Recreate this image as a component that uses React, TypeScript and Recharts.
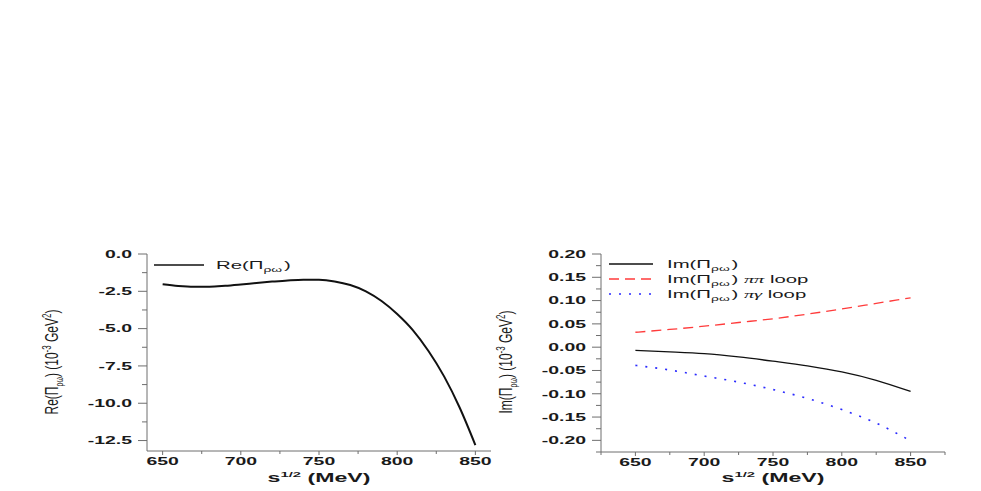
import React from 'react'
import { LineChart, Line, XAxis, YAxis, Label, Legend } from 'recharts'

// the source figure is stretched sideways, so text is widened by this factor
const SX = 1.85
const FONT = '"Liberation Sans", Arial, sans-serif'
const AXIS = '#6e6e6e'
const INK = '#1a1a1a'

// left panel: Re(Pi_rho-omega)
const reEnergy = [650, 660, 670, 680, 690, 700, 710, 720, 730, 740, 750, 760, 770, 780, 790, 800, 810, 820, 830, 840, 850]
const reValues = [-2.03, -2.14, -2.19, -2.19, -2.13, -2.04, -1.94, -1.85, -1.77, -1.72, -1.73, -1.84, -2.08, -2.5, -3.15, -4.02, -5.1, -6.5, -8.2, -10.3, -12.8]
const reXTicks = [650, 675, 700, 725, 750, 775, 800, 825, 850]
const reYTicks = [0, -1.25, -2.5, -3.75, -5, -6.25, -7.5, -8.75, -10, -11.25, -12.5]

// right panel: Im(Pi_rho-omega) and its two loop contributions
const imEnergy = [650, 675, 700, 725, 750, 775, 800, 825, 850]
const imTotal = [-0.007, -0.01, -0.014, -0.021, -0.03, -0.04, -0.053, -0.071, -0.095]
const imPiPi = [0.032, 0.038, 0.045, 0.053, 0.061, 0.071, 0.082, 0.094, 0.106]
const imPiGamma = [-0.039, -0.049, -0.062, -0.075, -0.091, -0.11, -0.134, -0.163, -0.201]
const imXTicks = [625, 650, 675, 700, 725, 750, 775, 800, 825, 850, 875]
const imYTicks = [0.2, 0.175, 0.15, 0.125, 0.1, 0.075, 0.05, 0.025, 0, -0.025, -0.05, -0.075, -0.1, -0.125, -0.15, -0.175, -0.2, -0.225]
const imKeys = ['total', 'pipi', 'pigamma']

const reData = reEnergy.map((e, i) => ({ e, re: reValues[i] }))
const imData = imEnergy.map((e, i) => ({ e, total: imTotal[i], pipi: imPiPi[i], pigamma: imPiGamma[i] }))

const isMultiple = (v: number, step: number) => Math.abs(v / step - Math.round(v / step)) < 1e-6

const Sub = ({ children }: { children: React.ReactNode }) => (
  <>
    <tspan dy={3} fontSize={7.5}>{children}</tspan>
    <tspan dy={-3}>{'\u200a'}</tspan>
  </>
)

function XTick({ x, y, payload }: any) {
  const v = payload.value
  const major = isMultiple(v, 50)
  return (
    <g>
      <line x1={x} x2={x} y1={y} y2={y + (major ? 4 : 3)} stroke={AXIS} />
      {major && (
        <g transform={`translate(${x},${y + 14}) scale(${SX},1)`}>
          <text textAnchor="middle" fontFamily={FONT} fontWeight="bold" fontSize={10.5} fill={INK}>
            {v}
          </text>
        </g>
      )}
    </g>
  )
}

const makeYTick = (step: number, digits: number) =>
  function YTick({ x, y, payload }: any) {
    const v = payload.value
    const major = isMultiple(v, step)
    return (
      <g>
        <line x1={x - (major ? 9 : 5)} x2={x} y1={y} y2={y} stroke={AXIS} />
        {major && (
          <g transform={`translate(${x - 15},${y}) scale(${SX},1)`}>
            <text textAnchor="end" dy="0.36em" fontFamily={FONT} fontWeight="bold" fontSize={10.5} fill={INK}>
              {v.toFixed(digits)}
            </text>
          </g>
        )}
      </g>
    )
  }

const xTitle = (cx: number) => () => (
  <g transform={`translate(${cx},482) scale(${SX},1)`}>
    <text textAnchor="middle" fontFamily={FONT} fontWeight="bold" fontSize={12.5} fill={INK}>
      s<tspan dy={-5} fontSize={8}>1/2</tspan>
      <tspan dy={5}> (MeV)</tspan>
    </text>
  </g>
)

const yTitle = (cx: number, head: string) => () => (
  <g transform={`translate(${cx},362) scale(1.5,1) rotate(-90)`}>
    <text textAnchor="middle" fontFamily={FONT} fontSize={12} fill={INK}>
      {head}(Π<tspan dy={3} fontSize={7}>ρω</tspan>
      <tspan dy={-3}>) (10</tspan>
      <tspan dy={-4.5} fontSize={8}>-3</tspan>
      <tspan dy={4.5}> GeV</tspan>
      <tspan dy={-4.5} fontSize={8}>2</tspan>
      <tspan dy={4.5}>)</tspan>
    </text>
  </g>
)

const seriesStyle: Record<string, { stroke: string; width: number; dash?: string }> = {
  re: { stroke: '#111', width: 2 },
  total: { stroke: '#111', width: 1.3 },
  pipi: { stroke: '#ff3b3b', width: 1.3, dash: '10 6' },
  pigamma: { stroke: '#2a2aff', width: 1.6, dash: '2 8' },
}

const legendText: Record<string, React.ReactNode> = {
  re: <>Re(Π<Sub>ρω</Sub>)</>,
  total: <>Im(Π<Sub>ρω</Sub>)</>,
  pipi: (
    <>
      Im(Π<Sub>ρω</Sub>){' '}
      <tspan fontFamily='"Liberation Serif", serif' fontStyle="italic">ππ</tspan> loop
    </>
  ),
  pigamma: (
    <>
      Im(Π<Sub>ρω</Sub>){' '}
      <tspan fontFamily='"Liberation Serif", serif' fontStyle="italic">πγ</tspan> loop
    </>
  ),
}

const legendContent = (order: string[], lineEnd: number, textX: number, rows: number[]) => (props: any) => {
  const payload = [...(props.payload || [])].sort(
    (a: any, b: any) => order.indexOf(String(a.dataKey)) - order.indexOf(String(b.dataKey))
  )
  return (
    <svg width={300} height={50} style={{ display: 'block' }}>
      {payload.map((entry: any, i: number) => {
        const key = String(entry.dataKey)
        const st = seriesStyle[key]
        const y = rows[i]
        return (
          <g key={key}>
            <line x1={4} x2={lineEnd} y1={y} y2={y} stroke={entry.color || st.stroke} strokeWidth={1.3} strokeDasharray={st.dash} />
            <g transform={`translate(${textX},${y}) scale(${SX},1)`}>
              <text dy="0.36em" fontFamily={FONT} fontSize={11} fill={INK}>
                {legendText[key]}
              </text>
            </g>
          </g>
        )
      })}
    </svg>
  )
}

export default function App() {
  return (
    <div style={{ position: 'absolute', left: 0, top: 0, width: 981, height: 491, background: '#fff' }}>
      <div style={{ position: 'absolute', left: 0, top: 0 }}>
        <LineChart width={500} height={491} data={reData} margin={{ top: 254, right: 9, bottom: 10, left: 37 }}>
          <XAxis
            dataKey="e"
            type="number"
            domain={[640, 860]}
            ticks={reXTicks}
            interval={0}
            height={30}
            tickSize={0}
            tickMargin={0}
            tickLine={false}
            axisLine={{ stroke: AXIS }}
            tick={<XTick />}
          >
            <Label content={xTitle(319)} />
          </XAxis>
          <YAxis
            type="number"
            domain={[-13.2, 0]}
            ticks={reYTicks}
            interval={0}
            width={110}
            tickSize={0}
            tickMargin={0}
            tickLine={false}
            axisLine={{ stroke: AXIS }}
            tick={makeYTick(2.5, 1)}
          >
            <Label content={yTitle(58, 'Re')} />
          </YAxis>
          <Legend
            layout="horizontal"
            verticalAlign="middle"
            align="center"
            wrapperStyle={{ position: 'absolute', left: 150, top: 255, width: 300, height: 50 }}
            content={legendContent(['re'], 54, 66, [10])}
          />
          <Line
            type="monotone"
            dataKey="re"
            stroke={seriesStyle.re.stroke}
            strokeWidth={seriesStyle.re.width}
            dot={false}
            isAnimationActive={false}
          />
        </LineChart>
      </div>

      <div style={{ position: 'absolute', left: 490, top: 0 }}>
        <LineChart width={491} height={491} data={imData} margin={{ top: 254, right: 36, bottom: 9, left: 1 }}>
          <XAxis
            dataKey="e"
            type="number"
            domain={[625, 875]}
            ticks={imXTicks}
            interval={0}
            height={30}
            tickSize={0}
            tickMargin={0}
            tickLine={false}
            axisLine={{ stroke: AXIS }}
            tick={<XTick />}
          >
            <Label content={xTitle(283)} />
          </XAxis>
          <YAxis
            type="number"
            domain={[-0.225, 0.2]}
            ticks={imYTicks}
            interval={0}
            width={110}
            tickSize={0}
            tickMargin={0}
            tickLine={false}
            axisLine={{ stroke: AXIS }}
            tick={makeYTick(0.05, 2)}
          >
            <Label content={yTitle(22, 'Im')} />
          </YAxis>
          <Legend
            layout="horizontal"
            verticalAlign="middle"
            align="center"
            wrapperStyle={{ position: 'absolute', left: 115, top: 255, width: 300, height: 50 }}
            content={legendContent(imKeys, 48, 62, [9, 24, 39])}
          />
          {imKeys.map((k) => (
            <Line
              key={k}
              type="monotone"
              dataKey={k}
              stroke={seriesStyle[k].stroke}
              strokeWidth={seriesStyle[k].width}
              strokeDasharray={seriesStyle[k].dash}
              dot={false}
              isAnimationActive={false}
            />
          ))}
        </LineChart>
      </div>
    </div>
  )
}
